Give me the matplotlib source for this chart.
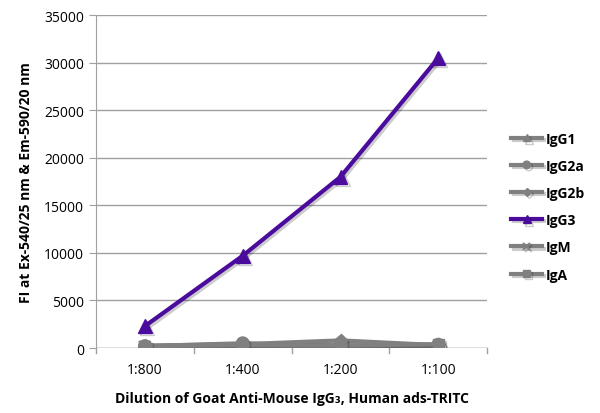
import matplotlib
matplotlib.use('Agg')
import matplotlib.pyplot as plt
import matplotlib.patheffects as pe

plt.rcParams['font.family'] = ['Open Sans', 'DejaVu Sans']

dilutions = ['1:800', '1:400', '1:200', '1:100']
series_names = ['IgG1', 'IgG2a', 'IgG2b', 'IgG3', 'IgM', 'IgA']
igg1 = [150, 350, 250, 250]
igg2a = [200, 500, 200, 350]
igg2b = [250, 400, 800, 300]
igg3 = [2300, 9700, 18000, 30500]
igm = [100, 200, 150, 200]
iga = [200, 300, 250, 400]
values = [igg1, igg2a, igg2b, igg3, igm, iga]

gray = '#808080'
purple = '#4b0c9e'
colors = [gray, gray, gray, purple, gray, gray]
markers = ['^', 'o', 'D', '^', 'x', 's']
sizes = [9, 9, 7, 10, 8, 8]

fig = plt.figure(figsize=(6, 4.14), dpi=100)
ax = fig.add_axes([0.16, 0.157, 0.652, 0.804])

x = list(range(len(dilutions)))
shadow = [pe.SimpleLineShadow(offset=(1.5, -1.5), alpha=0.2), pe.Normal()]
for name, vals, c, m, s in zip(series_names, values, colors, markers, sizes):
    ax.plot(x, vals, color=c, marker=m, markersize=s, linewidth=3,
            markeredgewidth=1.5 if m == 'x' else 1, label=name,
            path_effects=shadow)

ax.set_xlim(-0.5, 3.5)
ax.set_ylim(0, 35000)
ax.set_yticks(range(0, 35001, 5000))
ax.set_xticks(x)
ax.set_xticklabels(dilutions)
ax.grid(axis='y', color='#a0a0a0', linewidth=1)
ax.set_axisbelow(True)
for side in ['top', 'right', 'bottom']:
    ax.spines[side].set_visible(False)
ax.spines['left'].set_color('#a0a0a0')
ax.axhline(0, color='#a0a0a0', linewidth=1, zorder=1)
ax.tick_params(axis='y', length=5, color='#a0a0a0', labelsize=10)
ax.tick_params(axis='x', length=0, labelsize=10, pad=10)
# minor ticks between categories on the baseline
for b in [-0.5, 0.5, 1.5, 2.5, 3.5]:
    ax.plot([b, b], [0, -500], color='#a0a0a0', linewidth=1, clip_on=False)

ax.set_ylabel('FI at Ex-540/25 nm & Em-590/20 nm', fontsize=10,
              fontweight='bold', labelpad=8)
ax.set_xlabel('Dilution of Goat Anti-Mouse IgG\u2083, Human ads-TRITC',
              fontsize=10, fontweight='bold', labelpad=10)

leg = ax.legend(loc='center left', bbox_to_anchor=(1.03, 0.425), frameon=False,
                fontsize=10, handlelength=2.2, labelspacing=0.95,
                handletextpad=0.3, markerscale=0.6)
for t in leg.get_texts():
    t.set_fontweight('bold')

fig.savefig('out.png', dpi=100)
